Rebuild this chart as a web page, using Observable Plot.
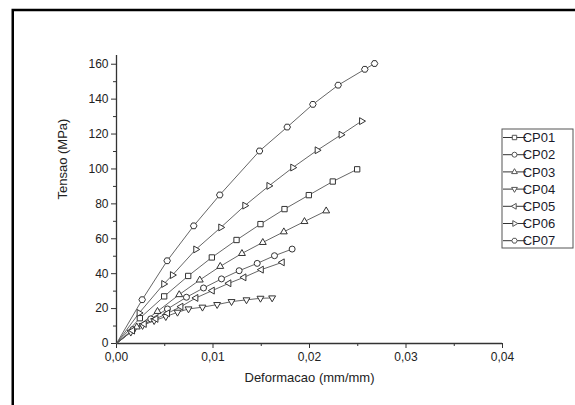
<!DOCTYPE html>
<html><head><meta charset="utf-8">
<script src="https://cdn.jsdelivr.net/npm/d3@7"></script>
<script src="https://cdn.jsdelivr.net/npm/@observablehq/plot@0.6"></script>
<style>html,body{margin:0;padding:0;background:#fff}svg{display:block}</style>
</head><body><div id="chart"></div>
<script>
const seriesNames = ["CP01","CP02","CP03","CP04","CP05","CP06","CP07"];
const strainCP01 = [0.00242,0.00494,0.00743,0.00988,0.01244,0.01492,0.01741,0.01993,0.02241,0.02494];
const stressCP01 = [14.5,27.0,38.7,49.3,59.3,68.4,77.0,85.0,92.8,99.8];
const strainCP02 = [0.0017,0.00355,0.00528,0.00725,0.00902,0.01088,0.01271,0.01458,0.01637,0.0182];
const stressCP02 = [8.0,14.1,19.8,26.5,31.8,37.0,41.7,45.9,50.3,54.1];
const strainCP03 = [0.0021,0.00425,0.0065,0.00863,0.01075,0.0130,0.01516,0.01734,0.01948,0.02173];
const stressCP03 = [9.5,18.4,28.0,36.4,44.2,51.6,57.9,64.0,69.9,76.0];
const strainCP04 = [0.00148,0.0027,0.0039,0.00511,0.00632,0.00746,0.00891,0.01043,0.01192,0.01347,0.01492,0.01613];
const stressCP04 = [6.5,10.3,13.1,15.4,17.9,19.8,20.8,22.3,24.0,25.0,25.9,26.1];
const strainCP05 = [0.00166,0.00287,0.00408,0.00528,0.00667,0.00822,0.00992,0.01164,0.0132,0.015,0.01717];
const stressCP05 = [7.4,11.2,14.1,17.3,21.1,26.1,30.3,34.5,37.9,42.3,46.5];
const strainCP06 = [0.00235,0.0049,0.0058,0.00822,0.01081,0.0133,0.0158,0.01827,0.0208,0.02328,0.0254];
const stressCP06 = [17.5,34.1,39.2,53.9,66.5,79.0,90.3,100.8,110.7,119.6,127.4];
const strainCP07 = [0.00266,0.00525,0.0080,0.0107,0.01482,0.01769,0.02035,0.02297,0.02573,0.02674];
const stressCP07 = [25.1,47.4,67.4,85.1,110.3,124.0,137.0,148.0,157.1,160.4];
const xTicks = [0,0.01,0.02,0.03,0.04];
const yTicks = [0,20,40,60,80,100,120,140,160];
const xLabel = "Deformacao (mm/mm)";
const yLabel = "Tensao (MPa)";

const strains = [strainCP01,strainCP02,strainCP03,strainCP04,strainCP05,strainCP06,strainCP07];
const stresses = [stressCP01,stressCP02,stressCP03,stressCP04,stressCP05,stressCP06,stressCP07];

function poly(pts){return {draw(ctx,size){const r=Math.sqrt(size/Math.PI);pts.forEach(([a,b],i)=>i?ctx.lineTo(a*r,b*r):ctx.moveTo(a*r,b*r));ctx.closePath();}};}
const triUp = poly([[0,-1.3],[-1.15,0.68],[1.15,0.68]]);
const triDown = poly([[0,1.3],[-1.15,-0.68],[1.15,-0.68]]);
const triLeft = poly([[-1.3,0],[0.68,-1.15],[0.68,1.15]]);
const triRight = poly([[1.3,0],[-0.68,-1.15],[-0.68,1.15]]);
const hex = poly(d3.range(6).map(i=>[1.1*Math.cos(Math.PI/3*i),1.1*Math.sin(Math.PI/3*i)]));
const symbols = [d3.symbolSquare,d3.symbolCircle,triUp,triDown,triLeft,triRight,hex];

const pts = [], linePts = [];
seriesNames.forEach((s,i)=>{
  linePts.push({series:s,x:0,y:0});
  strains[i].forEach((x,j)=>{const row={series:s,x,y:stresses[i][j]};pts.push(row);linePts.push(row);});
});

const fmt = d=>d.toFixed(2).replace(".",",");
const marks = [
  Plot.axisX({ticks:d3.range(0.005,0.04,0.01),tickSize:3,tickFormat:()=>"",label:null,stroke:"#333"}),
  Plot.axisY({ticks:d3.range(10,170,20),tickSize:3,tickFormat:()=>"",label:null,stroke:"#333"}),
  Plot.axisX({ticks:xTicks,tickSize:5,tickPadding:4,tickFormat:fmt,label:null,fontSize:12,stroke:"#333"}),
  Plot.axisY({ticks:yTicks,tickSize:5,tickPadding:3,label:null,fontSize:12,stroke:"#333"}),
  Plot.ruleY([0],{stroke:"#333",strokeWidth:1.3}),
  Plot.ruleX([0],{stroke:"#333",strokeWidth:1.3}),
  Plot.line(linePts,{x:"x",y:"y",z:"series",stroke:"#555",strokeWidth:0.9}),
  ...seriesNames.map((s,i)=>Plot.dot(pts.filter(d=>d.series===s),{x:"x",y:"y",symbol:symbols[i],r:3,stroke:"#333",strokeWidth:1,fill:"white"})),
  Plot.text([xLabel],{frameAnchor:"bottom",dy:38,fontSize:13,fill:"#222"}),
  Plot.text([yLabel],{frameAnchor:"left",dx:-54,rotate:-90,fontSize:13,fill:"#222"})
];

const chart = Plot.plot({
  width:575,height:405,
  marginLeft:116,marginRight:73,marginTop:55,marginBottom:62,
  x:{domain:[0,0.04]},
  y:{domain:[0,165]},
  style:{fontFamily:"'Liberation Sans', Arial, sans-serif",fontSize:"12px",color:"#222",background:"white",overflow:"visible"},
  marks
});
document.getElementById("chart").appendChild(chart);

const svg = d3.select(chart);
svg.append("rect").attr("x",12.75).attr("y",10).attr("width",700).attr("height",600)
  .attr("fill","none").attr("stroke","black").attr("stroke-width",2.5);
const lg = svg.append("g").attr("font-family","'Liberation Sans', Arial, sans-serif").attr("font-size",13);
lg.append("rect").attr("x",502).attr("y",129).attr("width",71).attr("height",119)
  .attr("fill","white").attr("stroke","#555").attr("stroke-width",1);
seriesNames.forEach((s,i)=>{
  const y = 137.5 + i*17.2;
  lg.append("line").attr("x1",503).attr("x2",526).attr("y1",y).attr("y2",y).attr("stroke","#333").attr("stroke-width",1);
  lg.append("path").attr("d",d3.symbol().type(symbols[i]).size(Math.PI*6.25)()).attr("transform",`translate(514.5,${y})`)
    .attr("fill","white").attr("stroke","#555").attr("stroke-width",1);
  lg.append("text").attr("x",539).attr("y",y).attr("dy","0.36em").attr("fill","#1a1a2a").text(s);
});
</script></body></html>
